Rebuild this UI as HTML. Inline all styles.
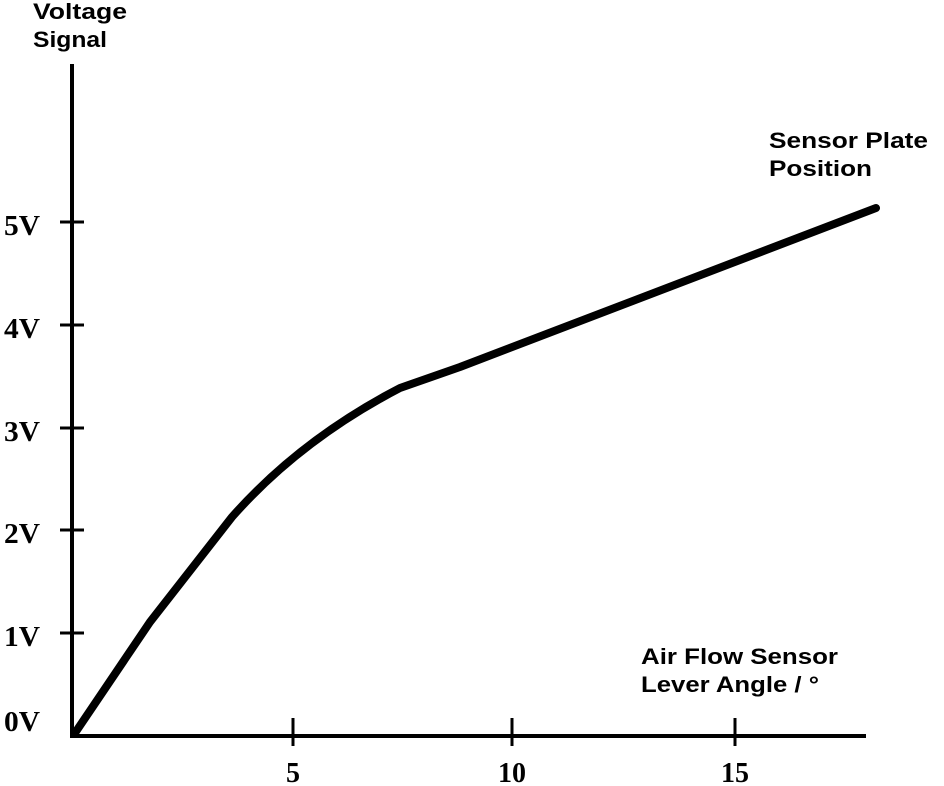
<!DOCTYPE html>
<html><head><style>
html,body{margin:0;padding:0;background:#fff;}
svg{display:block}
.s{font-family:"Liberation Sans",sans-serif;font-weight:bold;font-size:22px;fill:#000}
.r{font-family:"Liberation Serif",serif;font-weight:bold;font-size:28px;fill:#000}
</style></head><body>
<svg width="944" height="786" viewBox="0 0 944 786" xmlns="http://www.w3.org/2000/svg">
<rect width="944" height="786" fill="#fff"/>
<line x1="72" y1="64" x2="72" y2="738" stroke="#000" stroke-width="4"/>
<line x1="70" y1="736" x2="866" y2="736" stroke="#000" stroke-width="4"/>
<g stroke="#000" stroke-width="3">
<line x1="60" y1="222" x2="84" y2="222"/>
<line x1="60" y1="325" x2="84" y2="325"/>
<line x1="60" y1="428" x2="84" y2="428"/>
<line x1="60" y1="530" x2="84" y2="530"/>
<line x1="60" y1="633" x2="84" y2="633"/>
<line x1="293" y1="718" x2="293" y2="746"/>
<line x1="512" y1="718" x2="512" y2="746"/>
<line x1="735" y1="718" x2="735" y2="746"/>
</g>
<text class="r" x="4" y="235" textLength="36" lengthAdjust="spacingAndGlyphs">5V</text>
<text class="r" x="4" y="338" textLength="36" lengthAdjust="spacingAndGlyphs">4V</text>
<text class="r" x="4" y="441" textLength="36" lengthAdjust="spacingAndGlyphs">3V</text>
<text class="r" x="4" y="543" textLength="36" lengthAdjust="spacingAndGlyphs">2V</text>
<text class="r" x="4" y="646" textLength="36" lengthAdjust="spacingAndGlyphs">1V</text>
<text class="r" x="4" y="731" textLength="36" lengthAdjust="spacingAndGlyphs">0V</text>
<text class="r" x="293" y="782" text-anchor="middle">5</text>
<text class="r" x="512" y="782" text-anchor="middle">10</text>
<text class="r" x="735" y="782" text-anchor="middle">15</text>
<text class="s" x="33" y="19" textLength="94" lengthAdjust="spacingAndGlyphs">Voltage</text>
<text class="s" x="33" y="47" textLength="74" lengthAdjust="spacingAndGlyphs">Signal</text>
<text class="s" x="769" y="148" textLength="159" lengthAdjust="spacingAndGlyphs">Sensor Plate</text>
<text class="s" x="769" y="176" textLength="103" lengthAdjust="spacingAndGlyphs">Position</text>
<text class="s" x="641" y="664" textLength="197" lengthAdjust="spacingAndGlyphs">Air Flow Sensor</text>
<text class="s" x="641" y="692" textLength="178" lengthAdjust="spacingAndGlyphs">Lever Angle / °</text>
<path d="M75,733 L150,622 L232,517 Q300,440 400,388 L460,367 L876,208" fill="none" stroke="#000" stroke-width="8" stroke-linecap="round" stroke-linejoin="round"/>
</svg>
</body></html>
